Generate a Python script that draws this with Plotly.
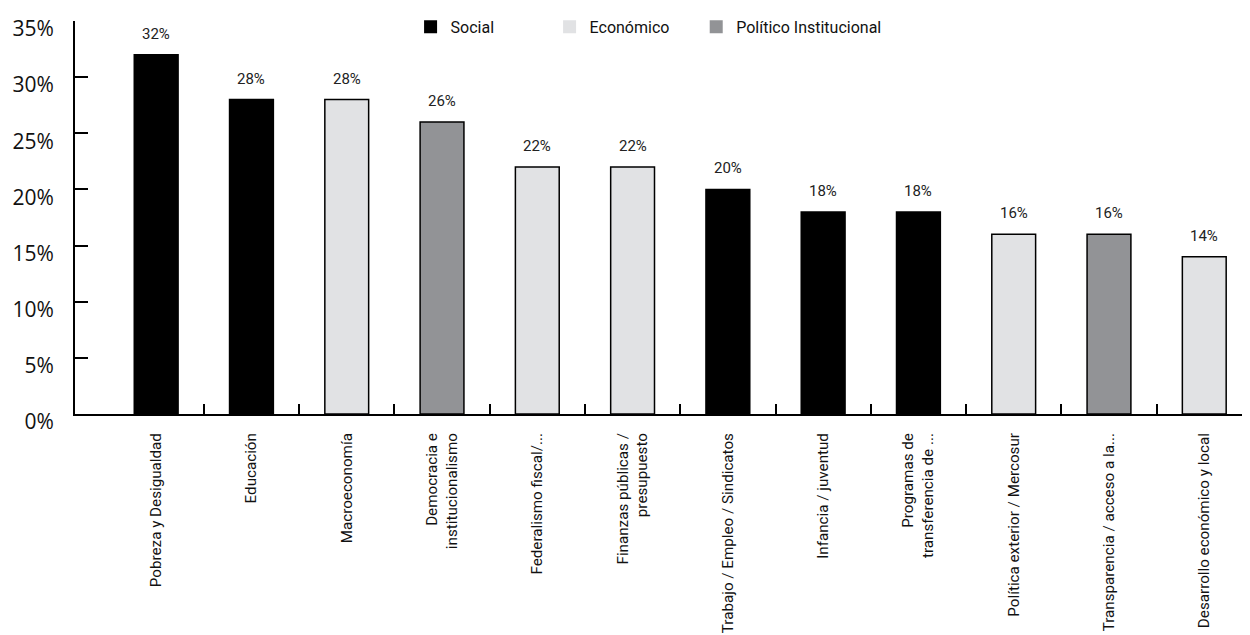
import plotly.graph_objects as go

categories = ["Pobreza y Desigualdad", "Educación", "Macroeconomía",
              "Democracia e<br>institucionalismo", "Federalismo fiscal/...",
              "Finanzas públicas /<br>presupuesto", "Trabajo / Empleo / Sindicatos",
              "Infancia / juventud", "Programas de<br>transferencia de ...",
              "Política exterior / Mercosur", "Transparencia / acceso a la...",
              "Desarrollo económico y local"]
values = [32, 28, 28, 26, 22, 22, 20, 18, 18, 16, 16, 14]
groups = ["Social", "Social", "Económico", "Político Institucional", "Económico",
          "Económico", "Social", "Social", "Social", "Económico",
          "Político Institucional", "Económico"]
group_names = ["Social", "Económico", "Político Institucional"]
group_colors = {"Social": "#000000", "Económico": "#e1e2e4", "Político Institucional": "#929396"}
y_ticks = [0, 5, 10, 15, 20, 25, 30, 35]
y_ticktext = [f"{v}%" for v in y_ticks]

idx = list(range(len(categories)))
legend_ids = ["legend", "legend2", "legend3"]
legend_x = [0.2836, 0.4019, 0.5347]

fig = go.Figure()

for k, g in enumerate(group_names):
    xs = [i for i in idx if groups[i] == g]
    ys = [values[i] for i in xs]
    fig.add_trace(go.Bar(x=xs, y=ys, width=0.46, name=g, showlegend=False,
                         marker=dict(color=group_colors[g], line=dict(color="#000000", width=1.5))))
    fig.add_trace(go.Scatter(x=[None], y=[None], mode="markers", name=g, showlegend=True,
                             legend=legend_ids[k],
                             marker=dict(symbol="square", size=13, color=group_colors[g],
                                         line=dict(width=0))))

for i in idx:
    fig.add_annotation(x=i, y=values[i], text=f"{values[i]}%", showarrow=False,
                       yanchor="bottom", yshift=10,
                       font=dict(family="Roboto", size=15, color="#222222"))

legend_style = dict(orientation="h", y=0.985, xanchor="left", yanchor="middle",
                    font=dict(family="Roboto", size=16, color="#111111"),
                    itemwidth=30, bgcolor="rgba(0,0,0,0)", borderwidth=0)

xr = [-0.852, 11.48]
fig.update_layout(
    width=1242, height=627,
    margin=dict(l=67, r=0, t=13, b=221, autoexpand=False),
    plot_bgcolor="white", paper_bgcolor="white",
    barmode="overlay",
    legend=dict(x=legend_x[0] + 0.002, **legend_style),
    legend2=dict(x=legend_x[1] + 0.002, **legend_style),
    legend3=dict(x=legend_x[2] - 0.006, **legend_style),
    xaxis=dict(range=xr, tickmode="array", tickvals=idx, ticktext=categories,
               tickangle=-90, ticks="", showline=True, linecolor="#000000", linewidth=2,
               showgrid=False, zeroline=False, ticklabelstandoff=11,
               tickfont=dict(family="Roboto", size=15.2, color="#111111")),
    xaxis2=dict(range=xr, overlaying="x", anchor="y", side="bottom",
                tickmode="array", tickvals=[i + 0.5 for i in idx[:-1]],
                ticks="inside", ticklen=10, tickwidth=2, tickcolor="#000000",
                showticklabels=False, showline=False, showgrid=False, zeroline=False),
    yaxis=dict(range=[0, 35], tickmode="array", tickvals=y_ticks, ticktext=y_ticktext,
               ticks="inside", ticklen=13, tickwidth=2, tickcolor="#000000",
               ticklabelposition="outside", ticklabelshift=8, ticklabelstandoff=15,
               showline=True, linecolor="#000000", linewidth=2,
               showgrid=False, zeroline=False,
               tickfont=dict(family="Open Sans", size=21, color="#111111")),
)
fig.add_trace(go.Scatter(x=[None], y=[None], xaxis="x2", showlegend=False))

fig.write_html("out.html")
